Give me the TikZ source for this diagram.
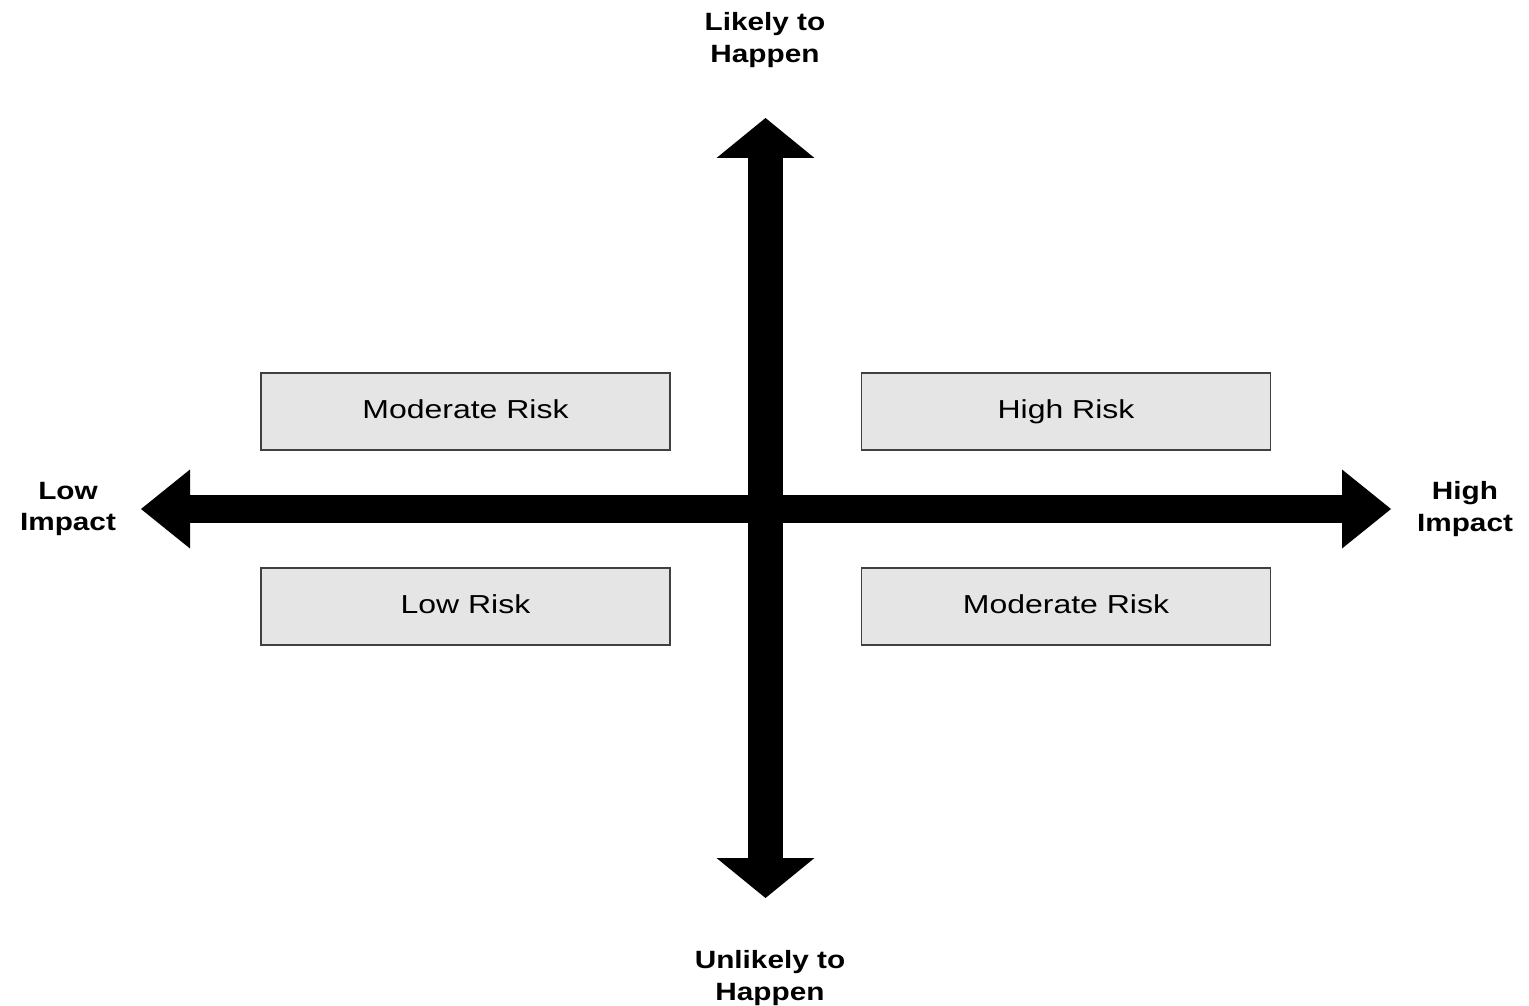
\documentclass[tikz,border=0pt]{standalone}
\usepackage{fontspec}
\setmainfont{Liberation Sans}
\newfontfamily\boxfont[FakeStretch=1.23]{Liberation Sans}
\newfontfamily\labfont[FakeStretch=1.19]{Liberation Sans}
\usetikzlibrary{arrows.meta}
\begin{document}
\begin{tikzpicture}[x=1pt,y=-1pt,
  riskbox/.style={draw=black!75, line width=1.6pt, fill=black!10, minimum width=409pt, minimum height=77pt, inner sep=0pt, text height=18.7pt, text depth=5pt, font=\boxfont\fontsize{26}{31}\selectfont},
  axislabel/.style={align=center, inner sep=0pt, font=\labfont\fontsize{25}{31.5}\selectfont\bfseries},
  vaxis/.style={line width=35pt, {Triangle[width=98pt,length=40pt,line width=0pt]}-{Triangle[width=98pt,length=40pt,line width=0pt]}},
  haxis/.style={line width=28pt, {Triangle[width=79pt,length=49pt,line width=0pt]}-{Triangle[width=79pt,length=49pt,line width=0pt]}}
]
\useasboundingbox (0,0) rectangle (1529,1006);
\coordinate (top) at (765.5,118);
\coordinate (bottom) at (765.5,898);
\coordinate (left) at (141,509);
\coordinate (right) at (1391,509);
\draw[haxis] (left) -- (right);
\draw[vaxis] (bottom) -- (top);
\node[riskbox] (mod1) at (465.5,411.5) {Moderate Risk};
\node[riskbox] (high) at (1066,411.5) {High Risk};
\node[riskbox] (low) at (465.5,606.5) {Low Risk};
\node[riskbox] (mod2) at (1066,606.5) {Moderate Risk};
\node[axislabel] (likely) at (765,40) {Likely to\\Happen};
\node[axislabel] (unlikely) at (770,978) {Unlikely to\\Happen};
\node[axislabel] (lowimp) at (68,509) {Low\\Impact};
\node[axislabel] (highimp) at (1465,509) {High\\Impact};
\end{tikzpicture}
\end{document}
